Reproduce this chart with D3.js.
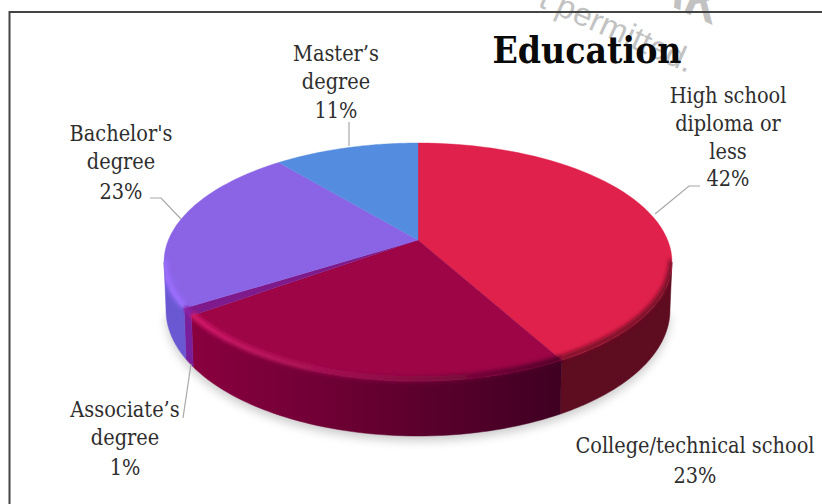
<!DOCTYPE html>
<html>
<head>
<meta charset="utf-8">
<script src="https://cdn.jsdelivr.net/npm/d3@7/dist/d3.min.js"></script>
<style>
html,body{margin:0;padding:0;background:#fff}
svg{display:block}
text{font-family:"DejaVu Serif Condensed","DejaVu Serif",serif;font-stretch:condensed}
</style>
</head>
<body>
<script>
// Education breakdown, percent of respondents
const categories = ["High school diploma or less", "College/technical school", "Associate's degree", "Bachelor's degree", "Master's degree"];
const values = [42, 23, 1, 23, 11];
const labelLines = [
  ["High school", "diploma or", "less", "42%"],
  ["College/technical school", "23%"],
  ["Associate\u2019s", "degree", "1%"],
  ["Bachelor's", "degree", "23%"],
  ["Master\u2019s", "degree", "11%"]
];
const faceColors = ["#e0214b", "#9d0546", "#7f1a8c", "#8b64e6", "#548cdf"];
const rimColors = [["#5e0c20", "#5e0c20"], ["#3f0022", "#8a003f"], ["#7a1f9c", "#7a1f9c"], ["#6a58d2", "#6a58d2"], ["#4a78c4", "#4a78c4"]];
const bevelColors = [["#6e0e26", "#7a1029"], ["#4a0026", "#d81a6c"], ["#8c22a6", "#8c22a6"], ["#9c6eff", "#9c6eff"], ["#548cdf", "#548cdf"]];
const labelCenters = [728, 695, 125, 121, 336];
const labelBaselines = [[103, 131, 159, 186], [453, 483], [417, 445, 475], [141, 169, 199], [61, 89, 118]];
const leaders = [
  [[700, 186], [689, 186], [655, 214]],
  [],
  [[191, 364], [183, 418]],
  [[150, 198], [161, 198], [181, 219]],
  [[349, 122], [349, 146]]
];

const W = 822, H = 504;
const svg = d3.select("body").append("svg").attr("width", W).attr("height", H);
const defs = svg.append("defs");

// Tilted disc: a projective map of the unit circle, so that the centre sits above the ellipse middle
const cx = 418, topCy = 262, rx = 254, ry = 119, hub = 22;
const persp = -hub * 2 / (2 * ry);
const kx = 249.6;
function topPoint(a) {
  const u = Math.sin(a), v = -Math.cos(a), d = 1 + persp * v;
  return [cx + kx * u / d, topCy + (ry * v - hub) / d];
}
// The lower rim is a slightly deeper ellipse, offset below the upper one
const botCy = 310, botRx = 252, botRy = 126;
function bottomPoint(a) {
  const p = topPoint(a);
  return [cx + botRx * (p[0] - cx) / rx, botCy + botRy * (p[1] - topCy) / ry];
}

const pie = d3.pie().sort(null).value(d => d);
const arcs = pie(values);
const line = d3.line();
const samples = (a0, a1) => d3.range(0, 61).map(i => a0 + (a1 - a0) * i / 60);

const sideFrom = Math.PI - Math.acos(-persp);
const sideTo = 2 * Math.PI - sideFrom;

function gradient(id, x0, x1, c0, c1) {
  const g = defs.append("linearGradient").attr("id", id)
    .attr("gradientUnits", "userSpaceOnUse").attr("x1", x0).attr("x2", x1).attr("y1", 0).attr("y2", 0);
  g.append("stop").attr("offset", 0).attr("stop-color", c0);
  g.append("stop").attr("offset", 1).attr("stop-color", c1);
}

defs.append("filter").attr("id", "soft").attr("x", "-10%").attr("y", "-10%").attr("width", "120%").attr("height", "120%")
  .append("feGaussianBlur").attr("stdDeviation", 5);
defs.append("filter").attr("id", "bevel").attr("x", "-10%").attr("y", "-10%").attr("width", "120%").attr("height", "120%")
  .append("feGaussianBlur").attr("stdDeviation", 2);

// Stray overprint lettering behind the title
const over = svg.append("g").attr("fill", "#c2c2c2");
over.append("text").attr("transform", "translate(537,6) rotate(24)").attr("font-size", 33)
  .style("font-family", "'Liberation Sans',sans-serif").text("t permitted.");
over.append("text").attr("transform", "translate(713,25) rotate(24)").attr("text-anchor", "end").attr("font-size", 48).attr("font-weight", 700)
  .style("font-family", "'Liberation Sans',sans-serif").text("AK");

// Frame: top and left edges
svg.append("path").attr("d", line([[W, 12], [9.5, 12], [9.5, H]]))
  .attr("fill", "none").attr("stroke", "#444").attr("stroke-width", 2);

// Ground shadow
const rimAll = samples(sideFrom, sideTo);
svg.append("path").attr("d", line(rimAll.map(bottomPoint).map(p => [p[0], p[1] + 5])) + "Z")
  .attr("fill", "#9a9a9a").attr("opacity", 0.5).attr("filter", "url(#soft)");

// Silhouette keeps the soft rim strokes inside the disc
const clip = defs.append("clipPath").attr("id", "disc");
clip.append("path").attr("d", line(samples(0, 2 * Math.PI).map(topPoint)) + "Z");
clip.append("path").attr("d", line(rimAll.map(topPoint).concat(rimAll.slice().reverse().map(bottomPoint))) + "Z");

// Visible wall of each slice
const walls = svg.append("g");
arcs.forEach((d, i) => {
  const a0 = Math.max(d.startAngle, sideFrom), a1 = Math.min(d.endAngle, sideTo);
  if (a1 <= a0) return;
  const s = samples(a0, a1);
  const xs = [topPoint(a0)[0], topPoint(a1)[0]];
  gradient("wall" + i, xs[0], xs[1], rimColors[i][0], rimColors[i][1]);
  walls.append("path")
    .attr("d", line(s.map(topPoint).concat(s.slice().reverse().map(bottomPoint))) + "Z")
    .attr("fill", `url(#wall${i})`).attr("stroke", `url(#wall${i})`).attr("stroke-width", 0.5);
});

// Top faces
const faces = svg.append("g");
arcs.forEach((d, i) => {
  faces.append("path")
    .attr("d", line([[cx, topCy - hub]].concat(samples(d.startAngle, d.endAngle).map(topPoint))) + "Z")
    .attr("fill", faceColors[i]).attr("stroke", faceColors[i]).attr("stroke-width", 0.4);
});

// Soft bevel along the front edge of the disc
const bevels = svg.append("g").attr("clip-path", "url(#disc)");
arcs.forEach((d, i) => {
  const a0 = Math.max(d.startAngle, sideFrom), a1 = Math.min(d.endAngle, sideTo);
  if (a1 <= a0) return;
  const xs = [topPoint(a0)[0], topPoint(a1)[0]];
  gradient("bevel" + i, xs[0], xs[1], bevelColors[i][0], bevelColors[i][1]);
  bevels.append("path")
    .attr("d", line(samples(a0, a1).map(topPoint).map(p => [p[0], p[1] - 2])))
    .attr("fill", "none").attr("stroke", `url(#bevel${i})`).attr("stroke-width", 6)
    .attr("filter", "url(#bevel)");
});

// Leader lines
svg.append("g").selectAll("path").data(leaders.filter(l => l.length)).join("path")
  .attr("d", line).attr("fill", "none").attr("stroke", "#a8a8a8").attr("stroke-width", 1.2);

// Slice labels
const labels = svg.append("g").attr("fill", "#2e2e2e").attr("font-size", 21.5).attr("text-anchor", "middle");
labelLines.forEach((lines, i) => {
  lines.forEach((t, j) => {
    labels.append("text").attr("x", labelCenters[i]).attr("y", labelBaselines[i][j]).text(t);
  });
});

// Title
svg.append("text").attr("x", 587).attr("y", 63).attr("text-anchor", "middle")
  .attr("font-size", 37).attr("font-weight", 700).attr("fill", "#0a0a0a").text("Education");
</script>
</body>
</html>
